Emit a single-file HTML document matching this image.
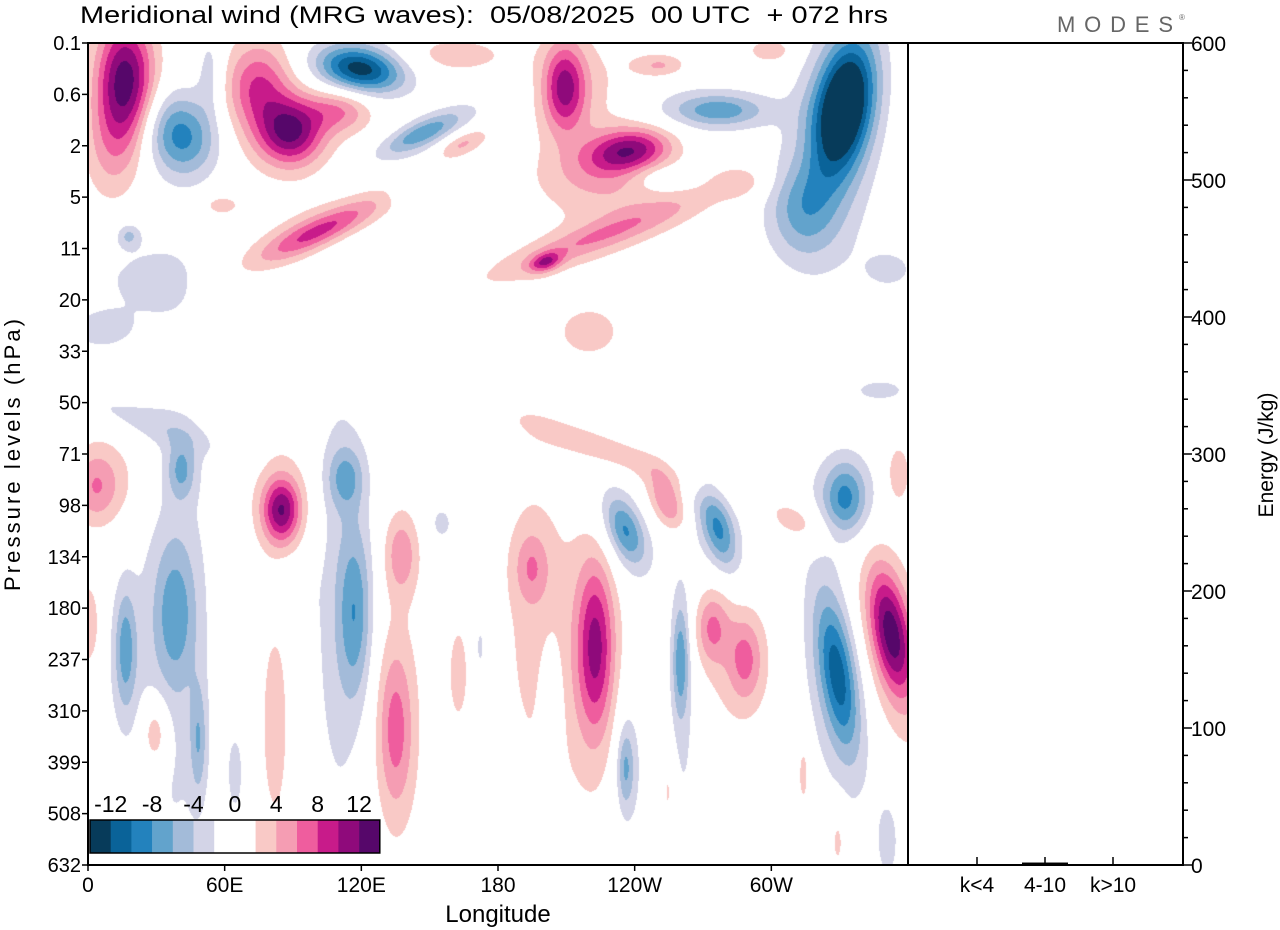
<!DOCTYPE html>
<html><head><meta charset="utf-8"><style>
body{margin:0;background:#fff;width:1280px;height:930px;overflow:hidden;font-family:"Liberation Sans",sans-serif}
#wrap{position:relative;width:1280px;height:930px}
canvas{position:absolute;left:88px;top:43px}
svg{position:absolute;left:0;top:0}
text{white-space:pre}
</style></head><body><div id="wrap">
<canvas id="cv" width="820" height="822"></canvas>
<svg id="sv" width="1280" height="930"></svg>
</div>
<script>
// ---- data ----
const levelLabels=["0.1","0.6","2","5","11","20","33","50","71","98","134","180","237","310","399","508","632"];
const lonTicks=[0,60,120,180,240,300];
const lonLabels=["0","60E","120E","180","120W","60W"];
const cbLabels=[-12,-8,-4,0,4,8,12];
const energyCats=["k<4","4-10","k>10"];
const energyVals=[0.4,1.8,0.5];
const energyTicks=[0,100,200,300,400,500,600];
// blob anomalies: lon(deg), level index, amplitude(m/s), width(deg), height(levels), tilt(deg)
const blobLon=[16.2,9.7,40.4,53.6,88.7,74.6,110.6,88.7,119.4,115,159,146,164,150,102,97.5,58,27,5,17.6,140.5,209,238,220,225,225,200.6,225,332,312.6,325.7,277.5,268.6,251,299.4,220,352,347.7,250,286,
3,9.7,40.8,38,38,16.2,16.2,48.3,84.7,85.6,112.8,110.6,117.2,137.4,134.8,134.8,29.4,82,155,86.5,0,162.4,172,64.5,22.8,
233.6,254.6,235.7,233.5,276.6,275.3,313,332.3,332.3,355.6,222.6,220.4,194.5,194,203.3,260,261.3,235.7,237.9,273.5,288.4,281.8,329,327.7,352.5,351.2,254.6,314,329,351];
const blobLev=[0.72,2.08,1.79,0.53,1.73,0.82,1.3,1.3,0.49,0.53,0.23,1.75,1.95,1.79,3.64,3.64,3.15,4.6,5.6,3.74,2.86,0.84,2.08,1.3,2.67,3.74,4.26,3.74,1.2,3.25,2.3,1.3,1.3,0.43,0.14,5.6,4.4,6.75,2.6,2.7,
8.64,8.5,8.3,11.6,11.1,11.75,12.0,13.57,9.09,8.9,8.45,10.84,11.1,9.93,13.37,13.2,13.43,13.24,9.34,10.7,11.3,12.26,11.75,14.2,7.34,
8.02,8.95,9.48,9.48,9.48,9.3,9.34,8.84,8.9,8.37,11.75,12.0,10.2,11.2,12.9,12.0,12.8,14.1,13.95,11.37,12.0,11.8,12.26,12.4,11.48,11.8,14.54,14.2,15.5,15.5];
const blobAmp=[13,3.5,-9,-3.2,10.5,7,5.5,2.2,-11,-3,3,-5,5,-2.8,6.5,2.6,3,-2.4,-2.6,-4,-3,9.5,10,2.6,3,3.6,7,2.4,-16,-5.5,-3.2,-5,-2.8,4,4,3,-2.6,-2.6,-2.6,2.6,
4,2.6,-5,-2.8,-5,-4.5,-2.6,-4.5,9.5,2.8,-5,-2.8,-6,5,5,2.3,5,3,-2.6,-2.6,4,3,-2.6,-3,-2.6,
3,6.5,-6.5,-2.6,-6.5,-2.6,3.5,-6.5,-2.6,4,8.5,2.6,4,2.3,-2.8,-6.5,-2.6,-5,-2.6,5,5,2.3,-9,-3,11,2.8,3,3,3,-3];
const blobW=[9,8.8,11,4.4,10,10,10,22,13,20,20,13,8.8,20,20,28.5,6.6,22,11,3.5,5,6.6,13,18,22,33,5,40,9,11,14,13,24,8,6.6,11,8.8,11,10,8.8,
6.6,13,4.4,12,6.6,3,6,2.6,5.7,11,5.7,10,5.3,5.3,5.3,9.7,4.4,5.3,4.4,6.6,3.5,3.5,2.2,2.6,26,
35,5.3,5.3,9.7,4.8,9.7,11,6.6,12,3.5,5.7,13,5.3,11,3.5,2.6,6,2.6,6,5.3,5.3,17.5,5.7,12,6.1,13,2.2,2.2,2.6,3.5];
const blobH=[0.88,0.78,0.58,0.58,0.45,0.6,0.3,1.0,0.3,0.49,0.3,0.16,0.16,0.3,0.2,0.35,0.16,0.6,0.3,0.16,0.2,0.6,0.3,1.1,0.49,0.2,0.12,0.39,0.95,0.68,1.6,0.2,0.39,0.16,0.16,0.39,0.3,0.2,0.2,0.23,
0.49,0.68,0.39,3.9,0.97,0.78,1.17,0.78,0.43,0.88,0.43,3.9,1.17,0.58,1.07,2.1,0.49,1.75,0.3,0.39,0.58,0.78,0.49,0.58,0.23,
0.23,0.43,0.49,0.97,0.55,1.07,0.3,0.49,0.78,0.39,1.17,2.5,0.49,2.7,0.88,0.78,2.3,0.55,1.36,0.49,0.58,1.36,1.07,1.95,0.88,1.75,0.68,0.58,0.49,0.58];
const blobTilt=[0,0,-20,0,0,0,0,0,10,0,0,-25,-25,-25,-25,-25,0,0,0,0,0,0,-10,0,0,-20,-20,-20,10,0,0,0,0,0,0,0,0,0,0,0,
0,0,0,0,0,0,0,0,0,0,0,0,0,0,0,0,0,0,0,0,0,0,0,0,20,
20,-25,-20,-20,-15,-20,30,0,0,0,0,0,0,0,0,0,0,0,0,0,0,0,-8,-8,-10,-10,0,0,0,0];
const colors=["#073b5a","#0a6399","#2382bd","#62a3cc","#a3bbd9","#d3d4e7","#ffffff","#ffffff","#f9c9c6","#f59db3","#ef5d9e","#c81b8a","#8f0a7b","#56076a"];

// ---- scales ----
const X0=88,X1=908,Y0=43,Y1=865;
const xLon=l=>X0+l/360*(X1-X0);
const yLev=i=>Y0+i*(Y1-Y0)/16;
const yE=e=>Y1-e/600*(Y1-Y0);

// ---- field ----
const W=820,H=822,field=new Float32Array(W*H);
for(let b=0;b<blobLon.length;b++){
  const cx=xLon(blobLon[b])-X0, cy=yLev(blobLev[b])-Y0;
  const sx=blobW[b]*W/360, sy=blobH[b]*H/16, a=blobTilt[b]*Math.PI/180;
  const c=Math.cos(a),s=Math.sin(a),R=4*Math.max(sx,sy);
  const xa=Math.max(0,Math.floor(cx-R)),xb=Math.min(W-1,Math.ceil(cx+R));
  const ya=Math.max(0,Math.floor(cy-R)),yb=Math.min(H-1,Math.ceil(cy+R));
  for(let y=ya;y<=yb;y++)for(let x=xa;x<=xb;x++){
    const dx=x-cx,dy=y-cy,u=(dx*c+dy*s)/sx,v=(-dx*s+dy*c)/sy;
    const q=u*u+v*v; if(q<32) field[y*W+x]+=blobAmp[b]*Math.exp(-0.5*q);
  }
}
const rgb=colors.map(h=>[parseInt(h.substr(1,2),16),parseInt(h.substr(3,2),16),parseInt(h.substr(5,2),16)]);
const ctx=document.getElementById('cv').getContext('2d');
const img=ctx.createImageData(W,H);
for(let i=0;i<W*H;i++){let k=Math.floor(field[i]/2)+7;k=k<0?0:k>13?13:k;const c=rgb[k];img.data[i*4]=c[0];img.data[i*4+1]=c[1];img.data[i*4+2]=c[2];img.data[i*4+3]=255;}
ctx.putImageData(img,0,0);

// ---- svg ----
const sv=document.getElementById('sv'),NS="http://www.w3.org/2000/svg";
function el(t,at,txt){const e=document.createElementNS(NS,t);for(const k in at)e.setAttribute(k,at[k]);if(txt!==undefined)e.textContent=txt;sv.appendChild(e);return e;}
let e;
e=el('text',{x:80,y:23,'font-size':24,textLength:808,lengthAdjust:'spacingAndGlyphs'},'Meridional wind (MRG waves):  05/08/2025  00 UTC  + 072 hrs');


e=el('text',{x:1057,y:32,'font-size':22,fill:'#666',textLength:116,lengthAdjust:'spacing'},'MODES');


el('text',{x:1179,y:20,'font-size':8,fill:'#666'},'®');
// frames
e=el('rect',{x:X0,y:Y0,width:X1-X0,height:Y1-Y0,fill:'none',stroke:'#000','stroke-width':2});


e=el('rect',{x:X1,y:Y0,width:1183-X1,height:Y1-Y0,fill:'none',stroke:'#000','stroke-width':2});


// y ticks
levelLabels.forEach((l,i)=>{const y=yLev(i);
  el('line',{x1:X0-6,x2:X0,y1:y,y2:y,stroke:'#000','stroke-width':1.5});
  e=el('text',{x:X0-7,y:y+7,'font-size':20,'text-anchor':'end'},l);
  
  
});
e=el('text',{x:0,y:0,'font-size':22,'text-anchor':'middle',textLength:272,transform:'translate(20,455) rotate(-90)'},'Pressure levels (hPa)');


// x ticks
lonTicks.forEach((l,i)=>{const x=xLon(l);
  el('line',{x1:x,x2:x,y1:Y1,y2:Y1+6,stroke:'#000','stroke-width':1.5});
  e=el('text',{x:x,y:Y1+27,'font-size':21,'text-anchor':'middle'},lonLabels[i]);
  
  
});
e=el('text',{x:498,y:922,'font-size':24,'text-anchor':'middle'},'Longitude');


// energy axis
for(let v=0;v<=600;v+=20){const y=yE(v);el('line',{x1:1183,x2:1183+(v%100?5:9),y1:y,y2:y,stroke:'#000','stroke-width':1.5});}
energyTicks.forEach(v=>{e=el('text',{x:1191,y:yE(v)+8,'font-size':21},String(v));
  
  });
e=el('text',{x:0,y:0,'font-size':21,'text-anchor':'middle',transform:'translate(1273,455) rotate(-90)'},'Energy (J/kg)');


const catX=i=>977+i*68;
energyCats.forEach((c,i)=>{const x=catX(i);
  el('line',{x1:x,x2:x,y1:Y1,y2:Y1-8,stroke:'#000','stroke-width':1.5});
  e=el('rect',{x:x-23,y:yE(energyVals[i]),width:46,height:Y1-yE(energyVals[i]),fill:'#000'});
  
  
  e=el('text',{x:x,y:Y1+27,'font-size':21,'text-anchor':'middle'},c);
  
  
});
// colorbar
const cbx=90,cby=820,cbw=20.7,cbh=33;
colors.forEach((c,i)=>{e=el('rect',{x:cbx+i*cbw,y:cby,width:cbw+0.3,height:cbh,fill:c});
  
  });
el('rect',{x:cbx,y:cby,width:14*cbw,height:cbh,fill:'none',stroke:'#000','stroke-width':1.5});
cbLabels.forEach((v,i)=>{e=el('text',{x:cbx+(1+2*i)*cbw,y:cby-8,'font-size':23,'text-anchor':'middle'},String(v));
  
  });
</script></body></html>
